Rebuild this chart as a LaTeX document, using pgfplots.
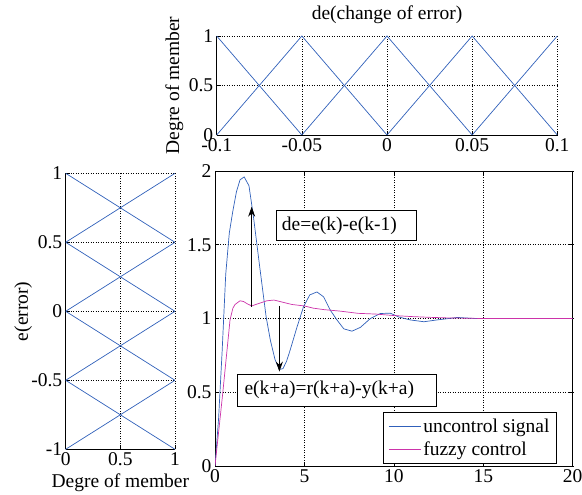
\documentclass[border=0pt]{standalone}
\usepackage{fontspec}
\setmainfont{Liberation Serif}
\usepackage{pgfplots}
\pgfplotsset{compat=1.18}
\usetikzlibrary{arrows.meta}
\definecolor{mblue}{RGB}{48,96,186}
\definecolor{mpink}{RGB}{204,51,170}
\newcommand{\bigfont}{\fontsize{19.5}{22}\selectfont}
\pgfplotsset{
  myaxis/.style={
    scale only axis, anchor=south west,
    font=\bigfont,
    tick label style={font=\bigfont},
    label style={font=\bigfont},
    title style={font=\bigfont},
    /pgf/number format/assume math mode=true,
    xticklabel={\pgfmathprintnumber{\tick}},
    yticklabel={\pgfmathprintnumber{\tick}},
    grid=major,
    major grid style={black, line width=0.5pt, dash pattern=on 1pt off 1.5pt},
    axis line style={black, line width=0.9pt},
    tick align=inside,
    major tick length=4pt,
    tick style={black, line width=0.6pt},
    scaled ticks=false,
  }
}
\begin{document}
\begin{tikzpicture}
\path[use as bounding box] (0pt,0pt) rectangle (582pt,495pt);
% top axis
\begin{axis}[myaxis, at={(216.7pt,360pt)}, width=340.6pt, height=99pt,
  xmin=-0.1, xmax=0.1, ymin=0, ymax=1,
  xtick={-0.1,-0.05,0,0.05,0.1}, xticklabels={-0.1,-0.05,0,0.05,0.1},
  ytick={0,0.5,1},
  axis x line*=bottom, axis y line*=left,
  x axis line style={-}, y axis line style={-},
  title={de(change of error)}, title style={at={(axis description cs:0.5,1.151)}, anchor=center},
  ylabel={Degre of member}, ylabel style={at={(axis description cs:-0.124,0.5)}, anchor=center},
]
\addplot[mblue, line width=0.7pt] coordinates {(-0.1,1)(-0.05,0)(0,1)(0.05,0)(0.1,1)};
\addplot[mblue, line width=0.7pt] coordinates {(-0.1,0)(-0.05,1)(0,0)(0.05,1)(0.1,0)};
\end{axis}
% left axis
\begin{axis}[myaxis, at={(65.7pt,45.7pt)}, width=109.3pt, height=276pt,
  xmin=0, xmax=1, ymin=-1, ymax=1,
  xtick={0,0.5,1}, ytick={-1,-0.5,0,0.5,1},
  axis x line*=bottom, axis y line*=left,
  x axis line style={-}, y axis line style={-},
  xlabel={Degre of member}, xlabel style={at={(axis description cs:0.5,-0.122)}, anchor=center},
  ylabel={e(error)}, ylabel style={at={(axis description cs:-0.39,0.5)}, anchor=center},
]
\addplot[mblue, line width=0.7pt] coordinates {(1,-1)(0,-0.5)(1,0)(0,0.5)(1,1)};
\addplot[mblue, line width=0.7pt] coordinates {(0,-1)(1,-0.5)(0,0)(1,0.5)(0,1)};
\end{axis}
% main axis
\begin{axis}[myaxis, at={(215pt,29pt)}, width=357.7pt, height=295pt,
  xmin=0, xmax=20, ymin=0, ymax=2,
  xtick={0,5,10,15,20}, ytick={0,0.5,1,1.5,2},
  legend style={at={(axis description cs:0.47,0.0068)}, anchor=south west, draw=black, line width=0.6pt, fill=white, font=\bigfont, inner xsep=5pt, inner ysep=4.5pt, row sep=4pt},
  legend cell align=left,
  legend image code/.code={\draw[#1, line width=0.9pt] (0pt,0pt) -- (32pt,0pt);},
]
\addplot[mblue, line width=0.7pt] coordinates {
(0,0)(0.2,0.32)(0.4,0.78)(0.6,1.3)(0.8,1.58)(1.0,1.73)(1.2,1.86)(1.4,1.94)(1.63,1.96)(1.9,1.9)(2.15,1.69)(2.5,1.35)(2.86,1.01)(3.1,0.85)(3.36,0.72)(3.6,0.655)(3.8,0.66)(4.0,0.71)(4.2,0.785)(4.58,0.94)(4.95,1.08)(5.3,1.16)(5.7,1.18)(6.07,1.147)(6.45,1.056)(6.82,0.99)(7.2,0.93)(7.66,0.914)(8.13,0.94)(8.69,1.0)(9.25,1.034)(9.8,1.036)(10.28,1.01)(10.93,0.99)(11.68,0.978)(12.4,0.99)(13.55,1.007)(14.5,1.0)(20,1.0)};
\addlegendentry{uncontrol signal}
\addplot[mpink, line width=0.7pt] coordinates {
(0,0)(0.43,0.49)(0.84,0.99)(1.0,1.07)(1.12,1.095)(1.4,1.12)(1.6,1.115)(1.8,1.1)(2.05,1.085)(2.4,1.1)(2.9,1.12)(3.3,1.125)(3.8,1.11)(4.3,1.095)(5.0,1.085)(5.5,1.07)(6.1,1.06)(7.0,1.05)(8.0,1.035)(9.0,1.03)(10.0,1.02)(11.0,1.013)(12.0,1.008)(13,1.004)(15,1.0)(20,1.0)};
\addlegendentry{fuzzy control}
\draw[black, line width=0.7pt, fill=white] (axis cs:3.41,1.527) rectangle (axis cs:11.28,1.736);
\node[anchor=west, font=\bigfont, inner sep=0pt] at (axis cs:3.73,1.631) {de=e(k)-e(k-1)};
\draw[black, line width=0.7pt, fill=white] (axis cs:1.27,0.407) rectangle (axis cs:12.39,0.624);
\node[anchor=west, font=\bigfont, inner sep=0pt] at (axis cs:1.64,0.515) {e(k+a)=r(k+a)-y(k+a)};
\draw[black, line width=0.8pt, -{Stealth[length=10pt,width=7pt]}] (axis cs:2.05,1.08) -- (axis cs:2.05,1.758);
\draw[black, line width=0.8pt, -{Stealth[length=10pt,width=7pt]}] (axis cs:3.6,1.085) -- (axis cs:3.6,0.64);
\end{axis}
\end{tikzpicture}
\end{document}
